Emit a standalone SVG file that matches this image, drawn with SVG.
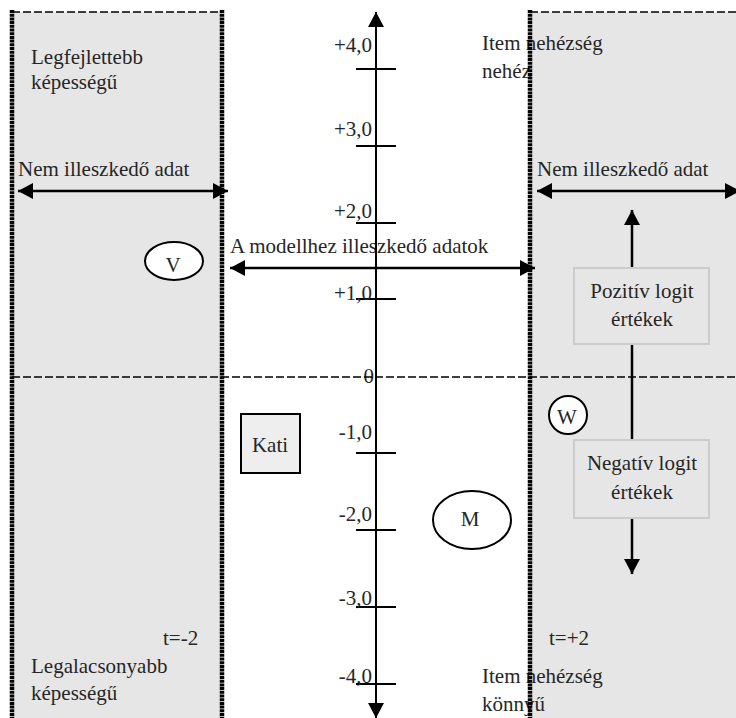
<svg xmlns="http://www.w3.org/2000/svg" width="736" height="718" viewBox="0 0 736 718">
<style>
text{font-family:"Liberation Serif","Times New Roman",serif;font-size:21px;fill:#262626}
.e{text-anchor:end}
.m{text-anchor:middle}
.panel{fill:#e6e6e6}
.border{stroke:#000;stroke-width:4.5;stroke-dasharray:3 0.7;fill:none}
.dash{stroke:#000;stroke-width:1.5;stroke-dasharray:8 3;fill:none}
.ln{stroke:#000;stroke-width:2.5;fill:none}
.ax{stroke:#000;stroke-width:2;fill:none}
.tick{stroke:#000;stroke-width:2}
.ell{fill:#fff;stroke:#000;stroke-width:2}
.lbox{fill:#e6e6e6;stroke:#cccccc;stroke-width:2}
</style>
<defs>
<marker id="ah" markerUnits="userSpaceOnUse" markerWidth="16" markerHeight="16" refX="15" refY="8" orient="auto-start-reverse">
<path d="M0,0 L15,8 L0,16 z" fill="#000"/>
</marker>
</defs>
<rect class="panel" x="12" y="12" width="210" height="706"/>
<rect class="panel" x="530" y="12" width="206" height="706"/>
<g id="labels">
<text x="31" y="64">Legfejlettebb</text>
<text x="31" y="89">képességű</text>
<text x="18" y="176">Nem illeszkedő adat</text>
<text x="537" y="176">Nem illeszkedő adat</text>
<text x="482" y="50">Item nehézség</text>
<text x="482" y="78">nehéz</text>
<text x="230" y="253">A modellhez illeszkedő adatok</text>
<text x="163" y="645">t=-2</text>
<text x="549" y="645">t=+2</text>
<text x="31" y="673">Legalacsonyabb</text>
<text x="31" y="700">képességű</text>
<text x="482" y="683">Item nehézség</text>
<text x="482" y="711">könnyű</text>
</g>
<g id="scale">
<line class="tick" x1="356" y1="69" x2="396" y2="69"/>
<line class="tick" x1="356" y1="146" x2="396" y2="146"/>
<line class="tick" x1="356" y1="223" x2="396" y2="223"/>
<line class="tick" x1="356" y1="299" x2="396" y2="299"/>
<line class="tick" x1="356" y1="453" x2="396" y2="453"/>
<line class="tick" x1="356" y1="530" x2="396" y2="530"/>
<line class="tick" x1="356" y1="607" x2="396" y2="607"/>
<line class="tick" x1="356" y1="684" x2="396" y2="684"/>
<text class="e" x="372" y="52">+4,0</text>
<text class="e" x="372" y="136">+3,0</text>
<text class="e" x="372" y="218">+2,0</text>
<text class="e" x="372" y="300">+1,0</text>
<text class="e" x="374" y="383">0</text>
<text class="e" x="372" y="439">-1,0</text>
<text class="e" x="372" y="521">-2,0</text>
<text class="e" x="372" y="605">-3,0</text>
<text class="e" x="372" y="683">-4,0</text>
</g>
<g id="connectors">
<line class="dash" x1="12" y1="377" x2="736" y2="377"/>
<line class="dash" x1="12" y1="12" x2="222" y2="12"/>
<line class="dash" x1="530" y1="12" x2="736" y2="12"/>
<line class="ax" x1="376" y1="12" x2="376" y2="718" marker-start="url(#ah)" marker-end="url(#ah)"/>
<line class="ln" x1="18" y1="191" x2="228" y2="191" marker-start="url(#ah)" marker-end="url(#ah)"/>
<line class="ln" x1="537" y1="191" x2="740" y2="191" marker-start="url(#ah)" marker-end="url(#ah)"/>
<line class="ln" x1="230" y1="268" x2="535" y2="268" marker-start="url(#ah)" marker-end="url(#ah)"/>
<line class="ln" x1="632" y1="268" x2="632" y2="210" marker-end="url(#ah)"/>
<line class="ln" x1="632" y1="344" x2="632" y2="440"/>
<line class="ln" x1="632" y1="518" x2="632" y2="574" marker-end="url(#ah)"/>
</g>
<g id="node-V">
<ellipse class="ell" cx="174" cy="261" rx="29" ry="19"/>
<text class="m" x="173" y="272">V</text>
</g>
<g id="node-W">
<circle class="ell" cx="568" cy="415" r="19"/>
<text class="m" x="567" y="424">W</text>
</g>
<g id="node-M">
<ellipse class="ell" cx="472" cy="520" rx="39" ry="29"/>
<text class="m" x="470" y="526">M</text>
</g>
<g id="node-Kati">
<rect x="241" y="414" width="59" height="59" fill="#eeeeee" stroke="#000" stroke-width="2"/>
<text class="m" x="270" y="452">Kati</text>
</g>
<g id="node-pozitiv">
<rect class="lbox" x="574" y="268" width="135" height="76"/>
<text class="m" x="642" y="298">Pozitív logit</text>
<text class="m" x="642" y="326">értékek</text>
</g>
<g id="node-negativ">
<rect class="lbox" x="574" y="440" width="135" height="78"/>
<text class="m" x="642" y="470">Negatív logit</text>
<text class="m" x="642" y="499">értékek</text>
</g>
<g id="borders">
<line class="border" x1="12" y1="10" x2="12" y2="718"/>
<line class="border" x1="222" y1="10" x2="222" y2="718"/>
<line class="border" x1="530" y1="10" x2="530" y2="718"/>
</g>
</svg>
